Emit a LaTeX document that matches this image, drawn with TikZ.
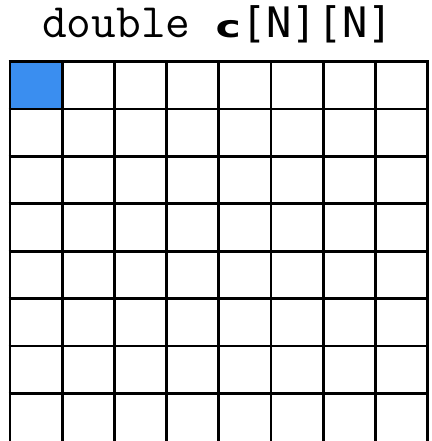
\documentclass[tikz,border=0pt]{standalone}
\usepackage{fontspec}
\newfontfamily\monofont{DejaVu Sans Mono}
\newfontface\cboldfont{DejaVu Sans Bold}
\definecolor{cellblue}{RGB}{58,142,240}
\begin{document}
\begin{tikzpicture}[x=1pt,y=-1pt,
  gridline/.style={line width=2.7pt,black},
  title/.style={anchor=base west,inner sep=0pt}]
\useasboundingbox (0,0) rectangle (431,441);
\fill[white] (0,0) rectangle (431,441);
\node[title] (t) at (42,37.5) {\fontsize{48}{48}\selectfont\ttfamily double \makebox[26pt]{\fontsize{30.5}{30.5}\selectfont\cboldfont\scalebox{1.4}[1]{c}}\fontsize{42}{42}\selectfont\monofont[N][N]};
\fill[cellblue] (10,61.7) rectangle (62.2,108.8);
\foreach \i in {0,...,8} {
  \draw[gridline] ({10+52.2*\i},61.7) -- ({10+52.2*\i},445);
}
\foreach \j in {0,...,7} {
  \draw[gridline] (8.7,{61.7+47.37*\j}) -- (429.3,{61.7+47.37*\j});
}
\end{tikzpicture}
\end{document}
